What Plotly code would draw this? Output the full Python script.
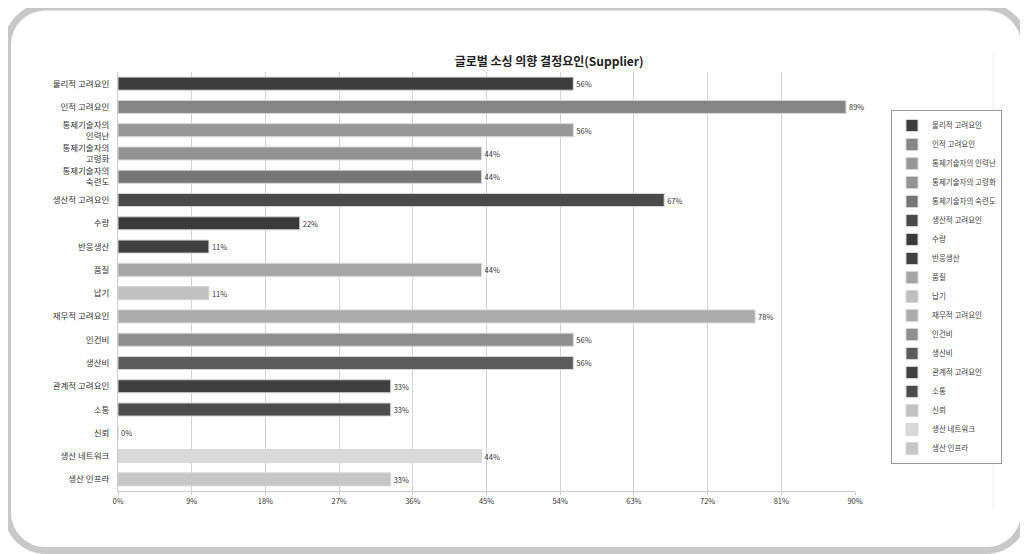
import plotly.graph_objects as go

# ---- data ----
names = ["물리적 고려요인", "인적 고려요인", "통제기술자의 인력난", "통제기술자의 고령화",
         "통제기술자의 숙련도", "생산적 고려요인", "수량", "반응생산", "품질", "납기",
         "재무적 고려요인", "인건비", "생산비", "관계적 고려요인", "소통", "신뢰",
         "생산 네트워크", "생산 인프라"]
tick_labels = ["물리적 고려요인", "인적 고려요인", "통제기술자의<br>인력난", "통제기술자의<br>고령화",
               "통제기술자의<br>숙련도", "생산적 고려요인", "수량", "반응생산", "품질", "납기",
               "재무적 고려요인", "인건비", "생산비", "관계적 고려요인", "소통", "신뢰",
               "생산 네트워크", "생산 인프라"]
values = [55.6, 88.9, 55.6, 44.4, 44.4, 66.7, 22.2, 11.1, 44.4, 11.1,
          77.8, 55.6, 55.6, 33.3, 33.3, 0.0, 44.4, 33.3]
colors = ["#3c3c3c", "#858585", "#979797", "#939393", "#767676", "#4a4a4a",
          "#3a3a3a", "#404040", "#a6a6a6", "#c0c0c0", "#acacac", "#8f8f8f",
          "#5c5c5c", "#404040", "#4c4c4c", "#c2c2c2", "#d9d9d9", "#c6c6c6"]
x_ticks = [0, 9, 18, 27, 36, 45, 54, 63, 72, 81, 90]
title = "글로벌 소싱 의향 결정요인(Supplier)"

FONT = "Noto Sans CJK KR, Open Sans, sans-serif"
OFF = 8  # page body margin
W, H = 1028 - OFF, 554 - OFF
ML, MT = 118 - OFF, 72 - OFF
MR = W - (855 - OFF)
MB = H - (491 - OFF)
PW, PH = W - ML - MR, H - MT - MB


def px(x):  # page pixel -> paper
    return (x - OFF - ML) / PW


def py(y):
    return (H - MB - (y - OFF)) / PH


fig = go.Figure()
for n, v, c in zip(names, values, colors):
    fig.add_trace(go.Bar(
        x=[v], y=[n], name=n, orientation="h", width=0.56,
        marker=dict(color=c, line=dict(color="#d6d6d6", width=1)),
        texttemplate="%{x:.0f}%", textposition="outside",
        textfont=dict(size=7.5, color="#333333", family=FONT),
        outsidetextfont=dict(size=7.5, color="#333333", family=FONT),
        cliponaxis=False, hoverinfo="skip",
    ))

# rounded frame
L, R, T, B, r = 7.5, 1024.5, 7, 550.5, 38
k = 0.5523 * r
pts = lambda a, b: f"{px(a)},{py(b)}"
path = (f"M {pts(L + r, T)} L {pts(R - r, T)} "
        f"C {pts(R - r + k, T)} {pts(R, T + r - k)} {pts(R, T + r)} "
        f"L {pts(R, B - r)} "
        f"C {pts(R, B - r + k)} {pts(R - r + k, B)} {pts(R - r, B)} "
        f"L {pts(L + r, B)} "
        f"C {pts(L + r - k, B)} {pts(L, B - r + k)} {pts(L, B - r)} "
        f"L {pts(L, T + r)} "
        f"C {pts(L, T + r - k)} {pts(L + r - k, T)} {pts(L + r, T)} Z")

fig.update_layout(
    width=W, height=H,
    margin=dict(l=ML, r=MR, t=MT, b=MB),
    paper_bgcolor="white", plot_bgcolor="white",
    barmode="overlay",
    font=dict(family=FONT, size=8, color="#333333"),
    title=dict(text="<b>" + title + "</b>", x=px(509), xanchor="center",
               y=1 - (62 - OFF) / H, yanchor="middle",
               font=dict(size=12, color="#222222", family=FONT)),
    xaxis=dict(range=[0, 90], tickvals=x_ticks, ticktext=[f"{t}%" for t in x_ticks],
               showgrid=True, gridcolor="#d2d2d2", gridwidth=1,
               showline=True, linecolor="#cccccc", linewidth=1,
               ticks="outside", ticklen=3, tickcolor="#cccccc",
               tickfont=dict(size=7.5, color="#333333"), zeroline=False,
               fixedrange=True),
    yaxis=dict(range=[17.5, -0.5], tickvals=names, ticktext=tick_labels,
               categoryorder="array", categoryarray=names,
               showline=True, linecolor="#cccccc", linewidth=1,
               ticks="", ticklabelstandoff=6,
               tickfont=dict(size=8.5, color="#333333"), showgrid=False,
               fixedrange=True),
    showlegend=True,
    legend=dict(x=px(891), y=py(287), xanchor="left", yanchor="middle",
                traceorder="normal", bordercolor="#999999", borderwidth=1,
                bgcolor="white", font=dict(size=7.5, color="#444444", family=FONT),
                itemwidth=30),
    shapes=[
        dict(type="path", xref="paper", yref="paper", path=path,
             line=dict(color="#c8c8c8", width=7), layer="above"),
        dict(type="line", xref="paper", yref="paper",
             x0=px(993), x1=px(993), y0=py(55), y1=py(510),
             line=dict(color="#eeeeee", width=1)),
    ],
)

fig.write_html("out.html")
